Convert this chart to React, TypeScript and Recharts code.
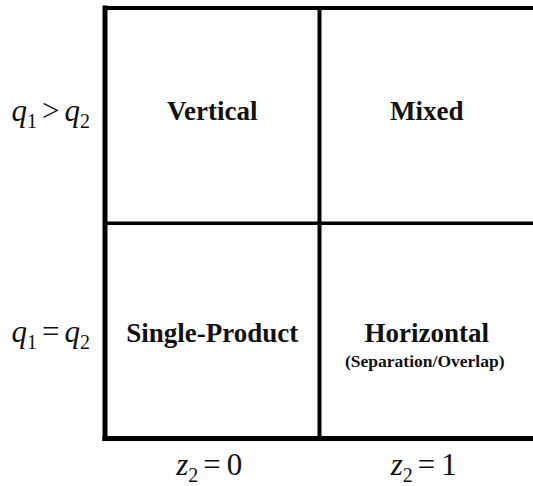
import { ReferenceLine, Scatter, ScatterChart, XAxis, YAxis } from "recharts";

// z2 value under each column, left to right
const colValues = ["0", "1"];
// relation between q1 and q2 for each row, bottom to top
const rowRelations = ["=", ">"];
// cell titles, [row][col], bottom row first
const cellTitles = [
  ["Single-Product", "Horizontal"],
  ["Vertical", "Mixed"],
];
const cellNotes = [
  ["", "(Separation/Overlap)"],
  ["", ""],
];

const cells = cellTitles.flatMap((row, r) =>
  row.map((title, c) => ({ x: c + 0.5, y: r + 0.5, title, note: cellNotes[r][c] }))
);

const INK = "#111";
const SERIF = "'Liberation Serif', 'DejaVu Serif', serif";

function Mathy({ x, y, v, rel, rhs, anchor }: any) {
  return (
    <text x={x} y={y} textAnchor={anchor} fontFamily={SERIF} fontSize={31} fill={INK}>
      <tspan fontStyle="italic">{v}</tspan>
      <tspan fontSize={20} dy={7}>
        {v === "q" ? "1" : "2"}
      </tspan>
      <tspan dy={-7} dx={5}>
        {rel}
      </tspan>
      {rhs === "q" ? (
        <>
          <tspan fontStyle="italic" dx={5}>
            q
          </tspan>
          <tspan fontSize={20} dy={7}>
            2
          </tspan>
        </>
      ) : (
        <tspan dx={6}>{rhs}</tspan>
      )}
    </text>
  );
}

function ColTick(props: any) {
  const { x, y, payload } = props;
  const val = colValues[Math.floor(payload.value)];
  return <Mathy x={x - 3} y={y + 28} v="z" rel="=" rhs={val} anchor="middle" />;
}

function RowTick(props: any) {
  const { x, y, payload } = props;
  const top = payload.value > 1;
  const rel = rowRelations[Math.floor(payload.value)];
  return <Mathy x={x - 7} y={y + (top ? 5 : 11)} v="q" rel={rel} rhs="q" anchor="end" />;
}

function CellLabel(props: any) {
  const { cx, cy, payload } = props;
  const yy = cy + (payload.y > 1 ? -5 : 2);
  return (
    <g>
      <text
        x={cx}
        y={yy}
        textAnchor="middle"
        dominantBaseline="central"
        fontFamily={SERIF}
        fontWeight="bold"
        fontSize={27}
        fill={INK}
      >
        {payload.title}
      </text>
      {payload.note && (
        <text
          x={cx - 2}
          y={yy + 28.5}
          textAnchor="middle"
          dominantBaseline="central"
          fontFamily={SERIF}
          fontWeight="bold"
          fontSize={17.5}
          fill={INK}
        >
          {payload.note}
        </text>
      )}
    </g>
  );
}

export default function App() {
  return (
    <div
      style={{
        position: "absolute",
        left: 0,
        top: 0,
        width: 533,
        height: 486,
        overflow: "hidden",
        background: "#fff",
      }}
    >
      <ScatterChart width={540} height={486} margin={{ top: 8, right: 6, left: 0, bottom: 0 }}>
        <XAxis
          type="number"
          dataKey="x"
          domain={[0, 2]}
          ticks={[0.5, 1.5]}
          interval={0}
          tick={(p: any) => <ColTick {...p} />}
          tickLine={false}
          axisLine={false}
          height={47.5}
        />
        <YAxis
          type="number"
          dataKey="y"
          domain={[0, 2]}
          ticks={[0.5, 1.5]}
          interval={0}
          tick={(p: any) => <RowTick {...p} />}
          tickLine={false}
          axisLine={false}
          width={105}
        />
        <ReferenceLine x={1} stroke="#000" strokeWidth={4} />
        <ReferenceLine y={1} stroke="#000" strokeWidth={3.5} />
        <ReferenceLine y={2} stroke="#000" strokeWidth={4} strokeLinecap="square" />
        <ReferenceLine x={0} stroke="#000" strokeWidth={5} strokeLinecap="square" />
        <ReferenceLine y={0} stroke="#000" strokeWidth={5} strokeLinecap="square" />
        <Scatter data={cells} shape={(p: any) => <CellLabel {...p} />} isAnimationActive={false} />
      </ScatterChart>
    </div>
  );
}
